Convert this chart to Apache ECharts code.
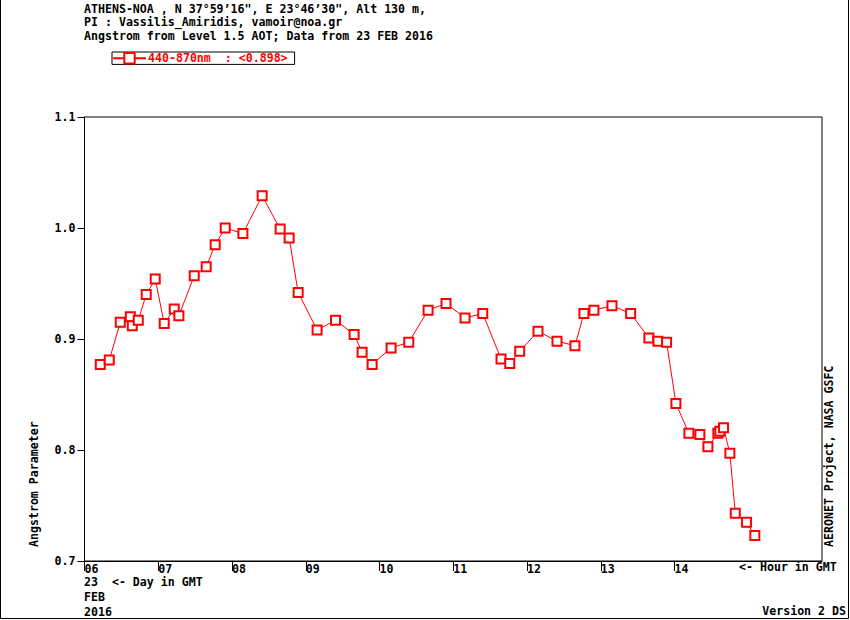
<!DOCTYPE html>
<html>
<head>
<meta charset="utf-8">
<script src="https://cdn.jsdelivr.net/npm/echarts@6/dist/echarts.min.js"></script>
<style>html,body{margin:0;padding:0;background:#fff}#c{width:850px;height:620px}</style>
</head>
<body>
<div id="c"></div>
<script>
// Hour (GMT, decimal) of each observation on 23 FEB 2016
const hours = [6.214,6.336,6.485,6.621,6.648,6.729,6.837,6.959,7.081,7.217,7.280,7.488,7.650,7.772,7.908,8.148,8.409,8.653,8.775,8.897,9.154,9.404,9.656,9.764,9.900,10.157,10.397,10.659,10.902,11.160,11.400,11.648,11.766,11.901,12.149,12.407,12.650,12.772,12.908,13.152,13.405,13.653,13.775,13.893,14.019,14.195,14.344,14.453,14.588,14.615,14.665,14.751,14.824,14.977,15.089];
// Angstrom parameter 440-870nm
const angstrom = [0.877,0.881,0.915,0.920,0.912,0.917,0.940,0.954,0.914,0.927,0.921,0.957,0.965,0.985,1.000,0.995,1.029,0.999,0.991,0.942,0.908,0.917,0.904,0.888,0.877,0.892,0.897,0.926,0.932,0.919,0.923,0.882,0.878,0.889,0.907,0.898,0.894,0.923,0.926,0.930,0.923,0.901,0.898,0.897,0.842,0.815,0.814,0.803,0.815,0.817,0.820,0.797,0.743,0.735,0.723];
const seriesName = '440-870nm  : <0.898>';
const hourTicks = [6,7,8,9,10,11,12,13,14];
const yTicks = [0.7,0.8,0.9,1.0,1.1];
const headerLines = [
  'ATHENS-NOA , N 37\u00b059\u201916", E 23\u00b046\u201930", Alt 130 m,',
  'PI : Vassilis_Amiridis, vamoir@noa.gr',
  'Angstrom from Level 1.5 AOT; Data from 23 FEB 2016'
];
const bottomLines = ['23  <- Day in GMT', 'FEB', '2016'];

const FONT = '"DejaVu Sans Mono", "Liberation Mono", monospace';
const FS = 11.6;
const FONTSTR = 'bold ' + FS + 'px ' + FONT;
const txt = (x, y, text, extra, styleExtra) => Object.assign({
  type: 'text', x: x, y: y, silent: true,
  style: Object.assign({text: text, fill: '#000', font: FONTSTR, textVerticalAlign: 'top'}, styleExtra || {})
}, extra || {});

const graphics = [];
graphics.push({type: 'rect', silent: true, shape: {x: 0.5, y: -2, width: 848, height: 620.5},
  style: {fill: null, stroke: '#000', lineWidth: 1}});
headerLines.forEach((t, i) => graphics.push(txt(84, 2.5 + i * 13.6, t)));
bottomLines.forEach((t, i) => graphics.push(txt(84, 575.5 + i * 15.3, t)));
graphics.push(txt(739, 561, '<- Hour in GMT'));
graphics.push(txt(846, 605, 'Version 2 DS', null, {textAlign: 'right'}));
graphics.push(txt(33.5, 547, 'Angstrom Parameter', {rotation: Math.PI / 2}, {textAlign: 'left', textVerticalAlign: 'middle'}));
graphics.push(txt(829, 547, 'AERONET Project, NASA GSFC', {rotation: Math.PI / 2}, {textAlign: 'left', textVerticalAlign: 'middle'}));

const chart = echarts.init(document.getElementById('c'), null, {renderer: 'svg'});
chart.setOption({
  animation: false,
  backgroundColor: '#fff',
  textStyle: {fontFamily: FONT, fontWeight: 'bold', fontSize: FS, color: '#000'},
  grid: {left: 84.5, right: 28, top: 117, bottom: 59, show: true, borderColor: '#000', borderWidth: 1, backgroundColor: 'transparent'},
  legend: {
    left: 112, top: 52, orient: 'horizontal',
    itemWidth: 33, itemHeight: 13, itemGap: 0,
    padding: [0, 7, 0, 0],
    borderColor: '#000', borderWidth: 1,
    textStyle: {color: '#ff0000', fontFamily: FONT, fontWeight: 'bold', fontSize: FS, padding: [0, 0, 0, -3]},
    data: [seriesName]
  },
  xAxis: {
    type: 'value', min: 6, max: 16, interval: 1,
    axisLine: {show: true, lineStyle: {color: '#000', width: 1}},
    axisTick: {show: true, inside: false, length: 10, lineStyle: {color: '#000'}, customValues: hourTicks},
    axisLabel: {
      show: true, margin: 1.5, align: 'left', color: '#000',
      fontFamily: FONT, fontWeight: 'bold', fontSize: FS,
      customValues: hourTicks,
      formatter: v => (v < 10 ? '0' : '') + Math.round(v)
    },
    splitLine: {show: false}
  },
  yAxis: {
    type: 'value', min: 0.7, max: 1.1, interval: 0.1,
    axisLine: {show: true, lineStyle: {color: '#000', width: 1}},
    axisTick: {show: true, inside: false, length: 7, lineStyle: {color: '#000'}, customValues: yTicks},
    axisLabel: {
      show: true, margin: 9, color: '#000',
      fontFamily: FONT, fontWeight: 'bold', fontSize: FS,
      customValues: yTicks,
      formatter: v => v.toFixed(1)
    },
    splitLine: {show: false}
  },
  series: [{
    name: seriesName,
    type: 'line',
    data: hours.map((h, i) => [h, angstrom[i]]),
    symbol: 'emptyRect', symbolSize: 9,
    showAllSymbol: true,
    lineStyle: {color: '#ff0000', width: 1},
    itemStyle: {color: '#ff0000', borderColor: '#ff0000', borderWidth: 1},
    emphasis: {disabled: true}
  }],
  graphic: graphics
});
</script>
</body>
</html>
